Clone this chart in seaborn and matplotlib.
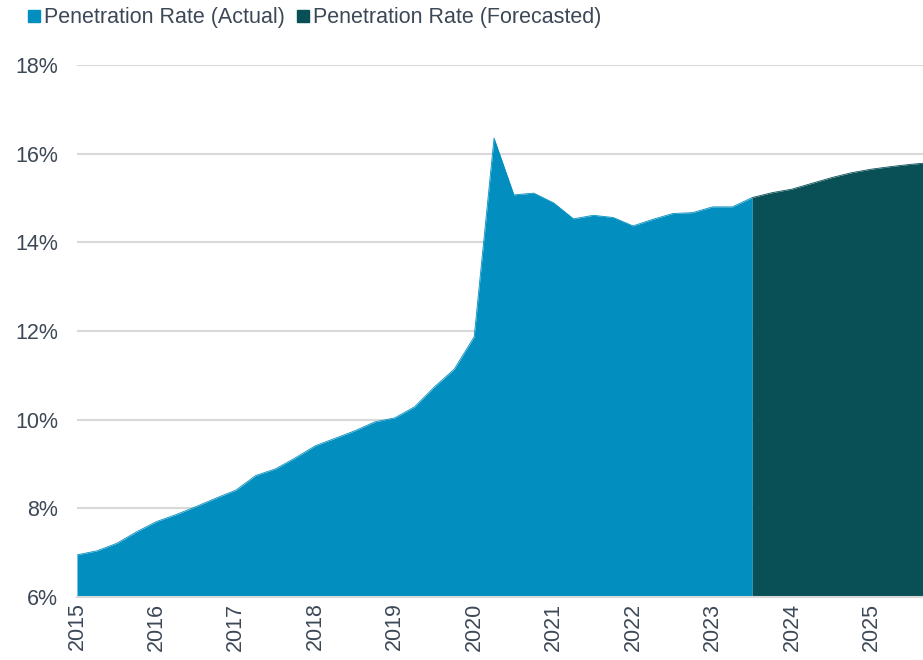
import matplotlib
matplotlib.use("Agg")
import matplotlib.pyplot as plt
from matplotlib.lines import Line2D
import seaborn as sns
import pandas as pd

# quarterly penetration rate, %
quarters = pd.period_range("2015Q1", "2025Q4", freq="Q")
actual = [6.95, 7.04, 7.21, 7.47, 7.70, 7.86, 8.04, 8.23, 8.41, 8.74,
          8.89, 9.14, 9.41, 9.58, 9.75, 9.95, 10.04, 10.29, 10.74, 11.14,
          11.87, 16.35, 15.07, 15.11, 14.89, 14.53, 14.61, 14.56, 14.37, 14.52,
          14.65, 14.67, 14.80, 14.80, 15.01]
forecast = [15.01, 15.12, 15.20, 15.33, 15.46, 15.57, 15.65, 15.71, 15.76, 15.80]
year_ticks = list(range(2015, 2026))
y_ticks = [6, 8, 10, 12, 14, 16, 18]

c_actual = "#028fc0"
c_fore = "#094f56"
txt = "#3d4857"

xpos = [q.year + (q.quarter - 1) / 4 for q in quarters]
n_act = len(actual)
df_act = pd.DataFrame({"x": xpos[:n_act], "rate": actual})
df_fc = pd.DataFrame({"x": xpos[n_act - 1:n_act - 1 + len(forecast)], "rate": forecast})

sns.set_theme(style="white")
plt.rcParams["font.family"] = ["Liberation Sans", "DejaVu Sans"]

fig = plt.figure(figsize=(9.23, 6.6), dpi=100)
ax = fig.add_axes([0.0834, 0.0955, 0.9166, 0.806])

ax.fill_between(df_act["x"], 6, df_act["rate"], color=c_actual, lw=0, zorder=2)
ax.fill_between(df_fc["x"], 6, df_fc["rate"], color=c_fore, lw=0, zorder=2)
sns.lineplot(data=df_act, x="x", y="rate", ax=ax, color=c_actual, lw=0.6, zorder=3)
sns.lineplot(data=df_fc, x="x", y="rate", ax=ax, color=c_fore, lw=0.6, zorder=3)

ax.set_xlim(2015, 2015 + 42.6 / 4)
ax.set_ylim(6, 18)
ax.set_yticks(y_ticks)
ax.set_yticklabels([f"{v}%" for v in y_ticks])
ax.set_xticks(year_ticks)
ax.set_xticklabels([str(y) for y in year_ticks], rotation=90, va="top", ha="center")
ax.tick_params(axis="both", length=0, labelsize=15.5, labelcolor=txt)
ax.tick_params(axis="y", pad=13.5)
ax.tick_params(axis="x", pad=4)
ax.set_xlabel("")
ax.set_ylabel("")

ax.yaxis.grid(True, color="#d9d9d9", lw=1.5, zorder=0)
ax.set_axisbelow(True)
for s in ["top", "right", "left"]:
    ax.spines[s].set_visible(False)
ax.spines["bottom"].set_color("#d9d9d9")
ax.spines["bottom"].set_linewidth(1.5)

handles = [Line2D([], [], marker="s", ls="", color=c_actual, markersize=8),
           Line2D([], [], marker="s", ls="", color=c_fore, markersize=8)]
fig.legend(handles, ["Penetration Rate (Actual)", "Penetration Rate (Forecasted)"],
           loc="center left", bbox_to_anchor=(0.029, 0.973), ncol=2, frameon=False,
           handlelength=0.7, handletextpad=0.1, columnspacing=0.5,
           borderpad=0, borderaxespad=0, fontsize=15.5, labelcolor=txt)

plt.savefig("out.png", dpi=100)
